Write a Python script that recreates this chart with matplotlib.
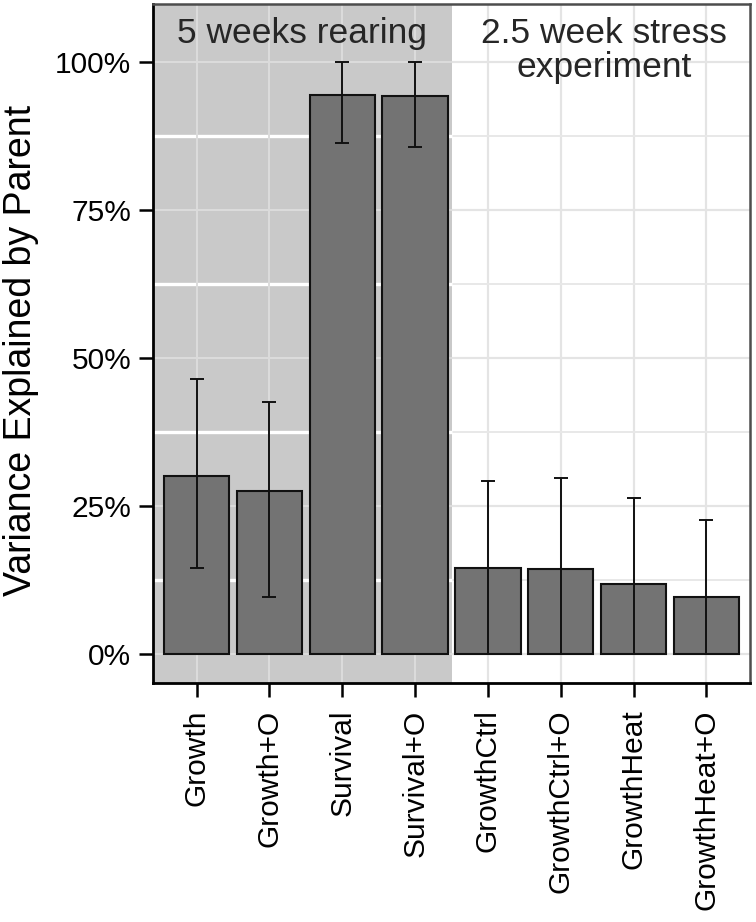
import matplotlib
matplotlib.use("Agg")
import matplotlib.pyplot as plt
from matplotlib.ticker import PercentFormatter, MultipleLocator
import numpy as np

categories = ["Growth", "Growth+O", "Survival", "Survival+O",
              "GrowthCtrl", "GrowthCtrl+O", "GrowthHeat", "GrowthHeat+O"]
values = [30.1, 27.6, 94.5, 94.2, 14.6, 14.4, 11.8, 9.7]
err_low = [14.5, 9.6, 86.4, 85.6, 0.0, 0.0, 0.0, 0.0]
err_high = [46.4, 42.6, 100.0, 100.0, 29.2, 29.8, 26.3, 22.6]
group_labels = ["5 weeks rearing", "2.5 week stress\nexperiment"]

plt.rcParams['font.family'] = ['Liberation Sans', 'DejaVu Sans']

fig = plt.figure(figsize=(7.56, 9.22), dpi=100)
ax = fig.add_axes([153/756, (922-683)/922, (750-153)/756, (683-4)/922])

x = np.arange(1, len(categories) + 1)
ax.set_xlim(0.4, 8.6)
ax.set_ylim(-4.9, 109.8)

ax.yaxis.set_major_locator(MultipleLocator(25))
ax.yaxis.set_minor_locator(MultipleLocator(12.5))
ax.yaxis.set_major_formatter(PercentFormatter(100, decimals=0))
ax.set_xticks(x)
ax.set_xticklabels(categories, rotation=90, fontsize=21.5)

# grid (white region style)
ax.set_axisbelow(True)
ax.grid(which='major', axis='both', color='#e4e4e4', lw=1.6, zorder=0.5)
ax.grid(which='minor', axis='y', color='#e8e8e8', lw=1.4, zorder=0.5)

# shaded region for the first four bars
ax.axvspan(0.4, 4.5, color='#c9c9c9', lw=0, zorder=0.8)
ymin_, ymax_ = ax.get_ylim()
for yv in np.arange(12.5, 110, 25):
    ax.hlines(yv, 0.4, 4.5, color='white', lw=2.4, zorder=0.9)
for yv in np.arange(0, 110, 25):
    ax.hlines(yv, 0.4, 4.5, color='#dcdcdc', lw=1.4, zorder=0.9)
for xv in x[:4]:
    ax.vlines(xv, ymin_, ymax_, color='#dcdcdc', lw=1.4, zorder=0.9)

vals = np.array(values)
yerr = np.vstack([vals - np.array(err_low), np.array(err_high) - vals])
ax.bar(x, vals, width=0.9, color='#737373', edgecolor='#111111', lw=1.5, zorder=2)
ax.errorbar(x, vals, yerr=yerr, fmt='none', ecolor='#111111', elinewidth=1.4,
            capsize=4.8, capthick=1.4, zorder=3)

# group annotations (one text per line)
group_x = [2.45, 6.6]
line_y = [103.2, 97.5]
for gx, lab in zip(group_x, group_labels):
    for ly, line in zip(line_y, lab.split("\n")):
        ax.text(gx, ly, line, ha='center', va='baseline',
                fontsize=25.5, color='#262626', zorder=4)

ax.tick_params(axis='y', labelsize=21.5, length=10, width=1.8, pad=5.5,
               colors='black', which='major')
ax.tick_params(axis='y', which='minor', length=0)
ax.tick_params(axis='x', length=10, width=1.8, pad=9, colors='black')

for s in ['left', 'bottom']:
    ax.spines[s].set_color('black')
    ax.spines[s].set_linewidth(2.0)
for s in ['top', 'right']:
    ax.spines[s].set_color('#4d4d4d')
    ax.spines[s].set_linewidth(1.8)

fig.text(21/756, 1 - 350/922, "Variance Explained by Parent", rotation=90,
         ha='center', va='center', fontsize=27)

fig.savefig("out.png", dpi=100)
